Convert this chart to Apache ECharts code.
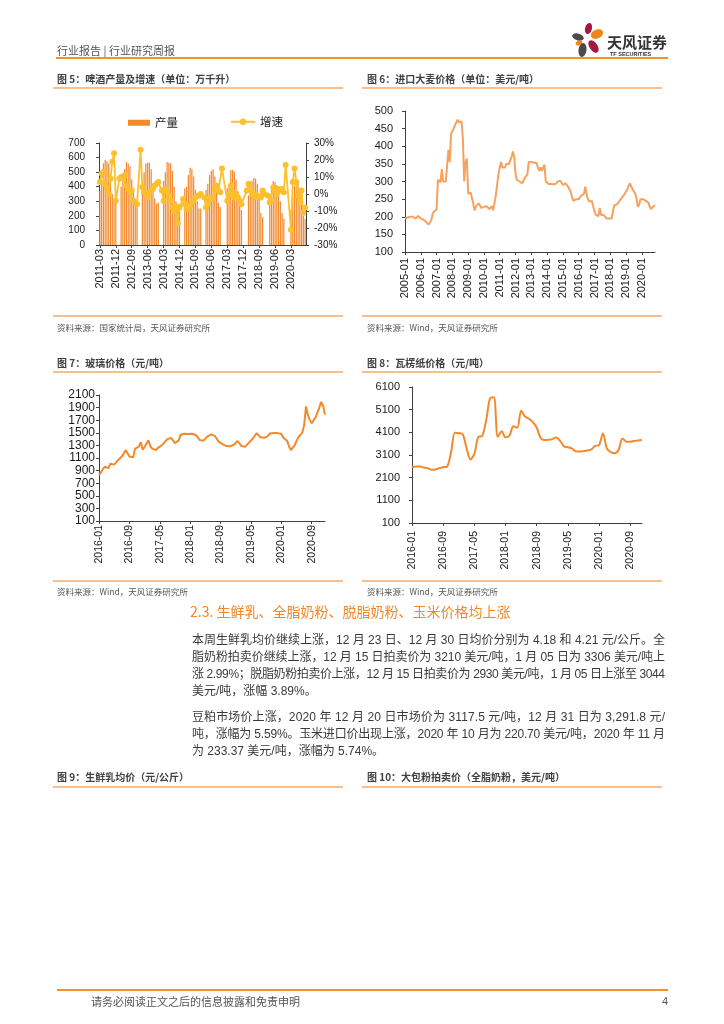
<!DOCTYPE html>
<html><head><meta charset="utf-8">
<script src="https://cdn.jsdelivr.net/npm/echarts@6/dist/echarts.min.js"></script>
<style>
html,body{margin:0;padding:0;background:#fff;}
#page{position:relative;width:724px;height:1024px;overflow:hidden;background:#fff;font-family:"Liberation Sans","Noto Sans CJK SC",sans-serif;}
#chart{position:absolute;left:0;top:0;width:724px;height:1024px;}
.t{position:absolute;white-space:nowrap;line-height:1;}
.ln{position:absolute;}
</style></head>
<body><div id="page"><div id="chart"></div></div>
<script>
// ---------- labels ----------
function months(y0, m0, y1, m1) {
  const a = []; let y = y0, m = m0;
  while (y < y1 || (y === y1 && m <= m1)) { a.push(y + '-' + String(m).padStart(2, '0')); m++; if (m > 12) { m = 1; y++; } }
  return a;
}
const beerMonths = months(2011, 3, 2020, 11);
const barleyMonths = months(2005, 1, 2020, 11);
const glassDates = [];
months(2016, 1, 2020, 12).forEach(m => { glassDates.push(m + '-01'); glassDates.push(m + '-16'); });
const paperMonths = months(2016, 1, 2020, 12);

// ---------- data ----------
// 图5 啤酒产量（万千升）
const beerOutput = [
  370,420,560,585,575,560,440,350,310,300,
  null,null,400,450,520,570,560,540,450,360,280,270,
  null,null,420,500,560,565,565,520,420,320,285,290,
  null,null,440,500,570,565,560,510,400,300,270,280,
  null,null,390,400,480,530,520,470,380,300,250,250,
  null,null,380,420,480,510,520,470,370,290,260,null,
  null,null,390,420,515,515,505,450,370,280,240,null,
  null,null,340,380,440,460,455,420,340,220,190,null,
  null,null,340,380,440,430,410,390,300,220,180,null,
  null,null,240,330,410,400,420,380,300,200,180
];
// 图5 增速（%）
const beerGrowth = [
  7,12,13,6,3,0,9,19,24,-4,
  null,9,10,10,11,5,3,1,2,-4,-5,-6,
  null,26,4,1,0,-2,1,2,3,5,6,7,
  null,2,-4,3,2,-1,-4,-8,-10,-7,-17,-8,
  null,-3,-6,-9,-8,-7,-5,-4,-2,-1,-1,0,
  null,-2,-8,-6,-3,-2,-2,3,5,2,1,15,
  null,null,-4,0,5,1,-2,0,-2,-4,-6,null,
  null,2,6,3,0,-2,0,-1,-2,-2,2,0,
  null,-1,-5,-4,4,2,0,3,2,3,1,17,
  null,null,-21,7,15,7,-1,-5,2,-11,-8
];
// 图6 进口大麦价格（美元/吨）
const barleyPrice = [
  195,200,198,203,200,205,200,198,195,200,202,198,
  195,193,192,188,185,182,178,180,190,208,215,220,
  220,305,300,298,335,300,302,300,300,390,355,435,
  440,450,460,468,475,468,465,470,420,300,355,365,
  265,262,268,270,235,218,230,235,238,232,225,225,
  228,228,230,228,222,225,230,218,220,260,255,320,
  340,355,340,335,340,350,345,350,360,370,385,370,
  320,305,302,300,298,295,302,310,315,320,355,356,
  355,355,354,354,352,340,330,340,330,335,348,300,
  295,293,295,293,296,292,295,294,300,298,302,300,
  290,292,295,290,285,280,270,255,245,248,250,250,
  250,255,260,255,265,285,265,250,243,245,245,230,
  215,205,200,202,225,205,200,205,200,195,195,195,
  195,195,200,232,235,235,238,245,250,255,258,265,
  270,278,288,295,285,278,275,265,250,228,235,250,
  255,250,248,245,243,240,228,222,225,230,232
];
// 图7 玻璃价格（元/吨），半月
const glassPrice = [
  830,870,920,960,950,940,1010,1030,995,1020,1065,1095,1125,1170,1225,1180,1125,1100,1110,1250,1270,1280,1350,1230,
  1275,1330,1380,1290,1250,1240,1225,1260,1285,1300,1330,1365,1400,1430,1420,1390,1335,1345,1380,1470,1495,1485,1490,1480,
  1495,1485,1475,1465,1430,1385,1360,1375,1390,1440,1460,1475,1480,1450,1405,1360,1330,1320,1305,1290,1270,1285,1300,1310,
  1340,1370,1330,1290,1285,1280,1310,1345,1375,1410,1440,1495,1470,1430,1415,1420,1435,1450,1490,1515,1495,1480,1495,1515,
  1480,1425,1405,1375,1290,1225,1235,1300,1370,1430,1460,1500,1620,1920,1780,1705,1650,1700,1740,1820,1900,1990,1930,1790
];
// 图8 瓦楞纸价格（元/吨）
const paperPrice = [
  2560,2590,2590,2550,2520,2450,2460,2520,2560,2590,3200,4080,
  4060,4020,3400,2900,3150,3900,3940,4600,5590,5650,3900,4150,
  3880,3950,4370,4300,5050,4800,4700,4550,4300,3850,3760,3770,
  3800,3870,3720,3480,3440,3390,3260,3250,3270,3300,3350,3500,
  3540,4050,3380,3230,3180,3330,3830,3690,3690,3720,3740,3760
];

// ---------- page text ----------
const page = document.getElementById('page');
function txt(s, x, yc, size, color, extra) {
  const d = document.createElement('div');
  d.className = 't'; d.textContent = s;
  d.style.left = x + 'px'; d.style.top = (yc - size / 2) + 'px';
  d.style.fontSize = size + 'px'; d.style.color = color;
  if (extra) Object.assign(d.style, extra);
  page.appendChild(d); return d;
}
function hline(x1, x2, y, w, color) {
  const d = document.createElement('div'); d.className = 'ln';
  d.style.left = x1 + 'px'; d.style.width = (x2 - x1) + 'px';
  d.style.top = (y - w / 2) + 'px'; d.style.height = w + 'px'; d.style.background = color;
  page.appendChild(d);
}
const CJK = '"Noto Sans CJK SC","Liberation Sans",sans-serif';
txt('行业报告 | 行业研究周报', 57, 50, 11, '#555', {fontFamily: CJK});
hline(56, 668, 58, 2, '#F0922E');
// logo
page.insertAdjacentHTML('beforeend',
 '<svg style="position:absolute;left:565px;top:18px" width="45" height="45" viewBox="0 0 45 45">' +
 '<ellipse cx="23.5" cy="10.5" rx="3.4" ry="5.6" transform="rotate(15 23.5 10.5)" fill="#A3193D"/>' +
 '<ellipse cx="32" cy="16" rx="6.5" ry="4.4" transform="rotate(-25 32 16)" fill="#F08519"/>' +
 '<ellipse cx="13" cy="19" rx="6" ry="3.4" transform="rotate(18 13 19)" fill="#4B4B4B"/>' +
 '<ellipse cx="14" cy="25" rx="3.4" ry="2.4" transform="rotate(-20 14 25)" fill="#F08519"/>' +
 '<ellipse cx="17.5" cy="32" rx="4" ry="7" transform="rotate(8 17.5 32)" fill="#4B4B4B"/>' +
 '<ellipse cx="28.5" cy="28.5" rx="4" ry="7" transform="rotate(-35 28.5 28.5)" fill="#A3193D"/>' +
 '</svg>');
txt('天风证券', 607, 41, 15, '#333', {fontFamily: CJK, fontWeight: 'bold'});
txt('TF SECURITIES', 610, 54.5, 5.5, '#333', {fontWeight: 'bold'});

const TT = {fontFamily: CJK, fontWeight: 'bold'};
txt('图 5：啤酒产量及增速（单位：万千升）', 57, 79, 10, '#404040', TT);
txt('图 6：进口大麦价格（单位：美元/吨）', 367, 79, 10, '#404040', TT);
hline(53, 343, 88, 1.5, '#F8BE8C'); hline(362, 662, 88, 1.5, '#F8BE8C');
hline(53, 343, 316, 1.5, '#F8BE8C'); hline(362, 662, 316, 1.5, '#F8BE8C');
txt('资料来源：国家统计局，天风证券研究所', 57, 327, 8.5, '#555', {fontFamily: CJK});
txt('资料来源：Wind，天风证券研究所', 367, 327, 8.5, '#555', {fontFamily: CJK});

txt('图 7：玻璃价格（元/吨）', 57, 363, 10, '#404040', TT);
txt('图 8：瓦楞纸价格（元/吨）', 367, 363, 10, '#404040', TT);
hline(53, 343, 372, 1.5, '#F8BE8C'); hline(362, 662, 372, 1.5, '#F8BE8C');
hline(53, 343, 581, 1.5, '#F8BE8C'); hline(362, 662, 581, 1.5, '#F8BE8C');
txt('资料来源：Wind，天风证券研究所', 57, 591, 8.5, '#555', {fontFamily: CJK});
txt('资料来源：Wind，天风证券研究所', 367, 591, 8.5, '#555', {fontFamily: CJK});

txt('2.3. 生鲜乳、全脂奶粉、脱脂奶粉、玉米价格均上涨', 190, 611, 14, '#F0882A', {fontFamily: CJK});

const paraLines = [
  ['本周生鲜乳均价继续上涨，12 月 23 日、12 月 30 日均价分别为 4.18 和 4.21 元/公斤。全', 640, true],
  ['脂奶粉拍卖价继续上涨，12 月 15 日拍卖价为 3210 美元/吨，1 月 05 日为 3306 美元/吨上', 657, true],
  ['涨 2.99%；脱脂奶粉拍卖价上涨，12 月 15 日拍卖价为 2930 美元/吨，1 月 05 日上涨至 3044', 674, true],
  ['美元/吨，涨幅 3.89%。', 691, false],
  ['豆粕市场价上涨，2020 年 12 月 20 日市场价为 3117.5 元/吨，12 月 31 日为 3,291.8 元/', 717, true],
  ['吨，涨幅为 5.59%。玉米进口价出现上涨，2020 年 10 月为 220.70 美元/吨，2020 年 11 月', 734, true],
  ['为 233.37 美元/吨，涨幅为 5.74%。', 751, false]
];
paraLines.forEach(([s, y, just]) => {
  const d = txt(s, 192, y, 12, '#3a3a3a');
  if (just) {
    const w = d.getBoundingClientRect().width;
    const n = [...s].length;
    d.style.letterSpacing = ((473 - w) / (n - 1)) + 'px';
  }
});

txt('图 9：生鲜乳均价（元/公斤）', 57, 777, 10, '#404040', TT);
txt('图 10：大包粉拍卖价（全脂奶粉，美元/吨）', 367, 777, 10, '#404040', TT);
hline(53, 343, 787, 1.5, '#F8BE8C'); hline(362, 662, 787, 1.5, '#F8BE8C');

hline(57, 668, 990, 2, '#F0922E');
txt('请务必阅读正文之后的信息披露和免责申明', 91, 1001, 11, '#555', {fontFamily: CJK});
txt('4', 662, 1001, 11, '#555');

// ---------- charts ----------
const FF = 'Liberation Sans';
const AX = '#404040';
const plain = v => String(v);
function catX(gi, data, interval, fontSize, margin, boundaryGap, fmt) {
  return {
    gridIndex: gi, type: 'category', data: data, boundaryGap: boundaryGap,
    axisLine: {lineStyle: {color: AX, width: 1}},
    axisTick: {show: true, interval: interval, length: 3, alignWithLabel: true, lineStyle: {color: AX}},
    axisLabel: {interval: interval, rotate: 90, fontSize: fontSize, margin: margin, color: '#1a1a1a', fontFamily: FF,
                formatter: fmt || plain},
    splitLine: {show: false}
  };
}
function valY(gi, min, max, interval, fontSize, margin, extra) {
  return Object.assign({
    gridIndex: gi, type: 'value', min: min, max: max, interval: interval,
    axisLine: {show: true, lineStyle: {color: AX, width: 1}},
    axisTick: {show: true, length: 3, lineStyle: {color: AX}},
    axisLabel: {fontSize: fontSize, margin: margin, color: '#1a1a1a', fontFamily: FF, formatter: plain},
    splitLine: {show: false}
  }, extra || {});
}

const chart = echarts.init(document.getElementById('chart'), null, {renderer: 'canvas'});
chart.setOption({
  animation: false,
  backgroundColor: 'transparent',
  textStyle: {fontFamily: FF},
  grid: [
    {left: 99, top: 143, width: 207, height: 102},
    {left: 405, top: 111, width: 250, height: 141},
    {left: 99, top: 395, width: 226, height: 126},
    {left: 412, top: 387, width: 230, height: 136}
  ],
  legend: [
    {data: [{name: '产量', icon: 'rect'}], left: 128, top: 117, itemWidth: 22, itemHeight: 6, padding: 0,
     textStyle: {fontSize: 11.5, color: '#1a1a1a', fontFamily: CJK}},
    {data: ['增速'], left: 230, top: 116, itemWidth: 24, itemHeight: 8, padding: 0,
     textStyle: {fontSize: 11.5, color: '#1a1a1a', fontFamily: CJK}}
  ],
  xAxis: [
    catX(0, beerMonths, 8, 11, 4, true),
    catX(1, barleyMonths, 11, 11, 6, false),
    catX(2, glassDates, 15, 10.5, 4, false, v => v.slice(0, 7)),
    catX(3, paperMonths, 7, 10.5, 8, false)
  ],
  yAxis: [
    valY(0, 0, 700, 100, 10, 14),
    valY(0, -30, 30, 10, 10, 8, {position: 'right', axisLabel: {fontSize: 10, margin: 8, color: '#1a1a1a', fontFamily: FF, formatter: '{value}%'}}),
    valY(1, 100, 500, 50, 11, 12),
    valY(2, 100, 2100, 200, 12, 4),
    valY(3, 100, 6100, 1000, 11, 12)
  ],
  series: [
    {name: '产量', type: 'bar', xAxisIndex: 0, yAxisIndex: 0, data: beerOutput, barWidth: '70%',
     itemStyle: {color: '#F28A30'}},
    {name: '增速', type: 'line', xAxisIndex: 0, yAxisIndex: 1, data: beerGrowth, connectNulls: true,
     showSymbol: true, showAllSymbol: true,
     symbol: 'circle', symbolSize: 6, lineStyle: {width: 1.8, color: '#FDBF2D'}, itemStyle: {color: '#FDBF2D'}},
    {name: '大麦', type: 'line', xAxisIndex: 1, yAxisIndex: 2, data: barleyPrice, symbol: 'none',
     lineStyle: {width: 2, color: '#F6A25E'}},
    {name: '玻璃', type: 'line', xAxisIndex: 2, yAxisIndex: 3, data: glassPrice, symbol: 'none',
     lineStyle: {width: 2, color: '#F28A2B'}},
    {name: '瓦楞纸', type: 'line', xAxisIndex: 3, yAxisIndex: 4, data: paperPrice, symbol: 'none', smooth: 0.3,
     lineStyle: {width: 2, color: '#F28A2B'}}
  ]
});
</script>
</body></html>
